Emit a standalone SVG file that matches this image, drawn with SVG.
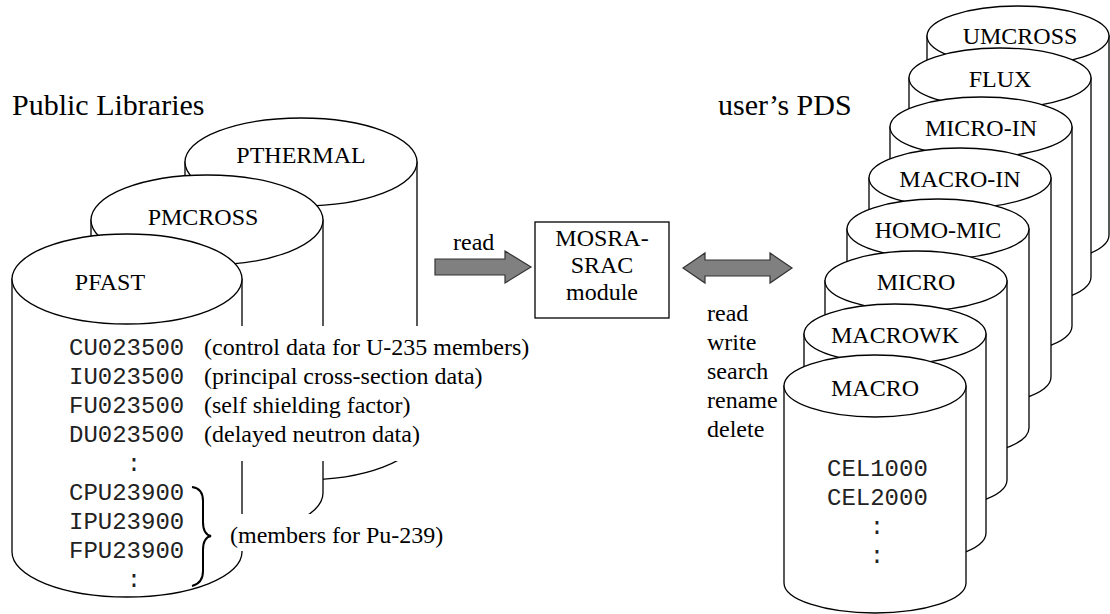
<svg xmlns="http://www.w3.org/2000/svg" width="1110" height="614" viewBox="0 0 1110 614">
<style>
.cyl{fill:#fff;stroke:#000;stroke-width:1.3}
.t{font-family:"Liberation Serif","Times New Roman",serif;font-size:24px;fill:#000}
.big{font-family:"Liberation Serif","Times New Roman",serif;font-size:30px;fill:#000}
.m{font-family:"Liberation Mono","Courier New",monospace;font-size:24px;fill:#222}
.arrow{fill:#808080;stroke:#333;stroke-width:1.2}
.mask{fill:#fff;stroke:none}
.c{text-anchor:middle}
</style>
<rect width="1110" height="614" fill="#fff"/>

<text class="big" x="12" y="115">Public Libraries</text>
<text class="big" x="718" y="115">user’s PDS</text>

<g id="pthermal">
<path class="cyl" d="M185,162 V436 A116,44 0 0 0 417,436 V162 Z"/>
<ellipse class="cyl" cx="301" cy="162" rx="116" ry="44"/>
<text class="t c" x="301" y="163">PTHERMAL</text>
</g>
<g id="pmcross">
<path class="cyl" d="M91,220 V493 A116,45 0 0 0 323,493 V220 Z"/>
<ellipse class="cyl" cx="207" cy="220" rx="116" ry="45"/>
<text class="t c" x="203" y="225">PMCROSS</text>
</g>
<g id="pfast">
<path class="cyl" d="M12,279 V552 A115,45 0 0 0 242,552 V279 Z"/>
<ellipse class="cyl" cx="127" cy="279" rx="115" ry="45"/>
<text class="t c" x="110" y="290">PFAST</text>
</g>

<g id="pfast-members">
<rect class="mask" x="55" y="326" width="478" height="135"/>
<rect class="mask" x="222" y="514" width="208" height="37"/>
<text class="m" x="69" y="355">CU023500</text>
<text class="m" x="69" y="384">IU023500</text>
<text class="m" x="69" y="413">FU023500</text>
<text class="m" x="69" y="442">DU023500</text>
<text class="m c" x="134" y="471">:</text>
<text class="m" x="69" y="500">CPU23900</text>
<text class="m" x="69" y="529">IPU23900</text>
<text class="m" x="69" y="558">FPU23900</text>
<text class="m c" x="134" y="587">:</text>
<text class="t" x="204" y="355">(control data for U-235 members)</text>
<text class="t" x="204" y="384">(principal cross-section data)</text>
<text class="t" x="204" y="413">(self shielding factor)</text>
<text class="t" x="204" y="442">(delayed neutron data)</text>
<path d="M192,487 C200,488 203,493 203,501 L203,522 C203,530 206,535 211,536 C206,537 203,542 203,550 L203,571 C203,579 200,584 192,586" fill="none" stroke="#000" stroke-width="2"/>
<text class="t" x="230" y="543">(members for Pu-239)</text>
</g>

<g id="module">
<rect x="535" y="222" width="134" height="96" fill="#fff" stroke="#000" stroke-width="1.3"/>
<text class="t c" x="602" y="246">MOSRA-</text>
<text class="t c" x="602" y="273">SRAC</text>
<text class="t c" x="602" y="300">module</text>
</g>

<g id="connectors">
<polygon class="arrow" points="435,259 505,259 505,251 531,267 505,283 505,275 435,275"/>
<text class="t" x="453" y="250">read</text>
<polygon class="arrow" points="683,268 705,253 705,260 770,260 770,253 792,268 770,283 770,276 705,276 705,283"/>
<text class="t" x="707" y="321">read</text>
<text class="t" x="707" y="350">write</text>
<text class="t" x="707" y="379">search</text>
<text class="t" x="707" y="408">rename</text>
<text class="t" x="707" y="437">delete</text>
</g>

<g id="umcross">
<path class="cyl" d="M927,36 V235 A91,30 0 0 0 1109,235 V36 Z"/>
<ellipse class="cyl" cx="1018" cy="36" rx="91" ry="30"/>
<text class="t c" x="1020" y="44">UMCROSS</text>
</g>
<g id="flux">
<path class="cyl" d="M909,78 V277 A91,30 0 0 0 1091,277 V78 Z"/>
<ellipse class="cyl" cx="1000" cy="78" rx="91" ry="30"/>
<text class="t c" x="1000" y="87">FLUX</text>
</g>
<g id="micro-in">
<path class="cyl" d="M890,127 V326 A91,30 0 0 0 1072,326 V127 Z"/>
<ellipse class="cyl" cx="981" cy="127" rx="91" ry="30"/>
<text class="t c" x="981" y="136">MICRO-IN</text>
</g>
<g id="macro-in">
<path class="cyl" d="M869,178 V377 A91,30 0 0 0 1051,377 V178 Z"/>
<ellipse class="cyl" cx="960" cy="178" rx="91" ry="30"/>
<text class="t c" x="960" y="187">MACRO-IN</text>
</g>
<g id="homo-mic">
<path class="cyl" d="M847,229 V428 A91,30 0 0 0 1029,428 V229 Z"/>
<ellipse class="cyl" cx="938" cy="229" rx="91" ry="30"/>
<text class="t c" x="938" y="238">HOMO-MIC</text>
</g>
<g id="micro">
<path class="cyl" d="M825,281 V480 A91,30 0 0 0 1007,480 V281 Z"/>
<ellipse class="cyl" cx="916" cy="281" rx="91" ry="30"/>
<text class="t c" x="916" y="290">MICRO</text>
</g>
<g id="macrowk">
<path class="cyl" d="M804,334 V533 A91,30 0 0 0 986,533 V334 Z"/>
<ellipse class="cyl" cx="895" cy="334" rx="91" ry="30"/>
<text class="t c" x="895" y="343">MACROWK</text>
</g>
<g id="macro">
<path class="cyl" d="M784,386 V583 A91,30 0 0 0 966,583 V386 Z"/>
<ellipse class="cyl" cx="875" cy="386" rx="91" ry="31"/>
<text class="t c" x="875" y="396">MACRO</text>
<text class="m" x="827" y="476">CEL1000</text>
<text class="m" x="827" y="505">CEL2000</text>
<text class="m c" x="877" y="534">:</text>
<text class="m c" x="877" y="563">:</text>
</g>
</svg>
